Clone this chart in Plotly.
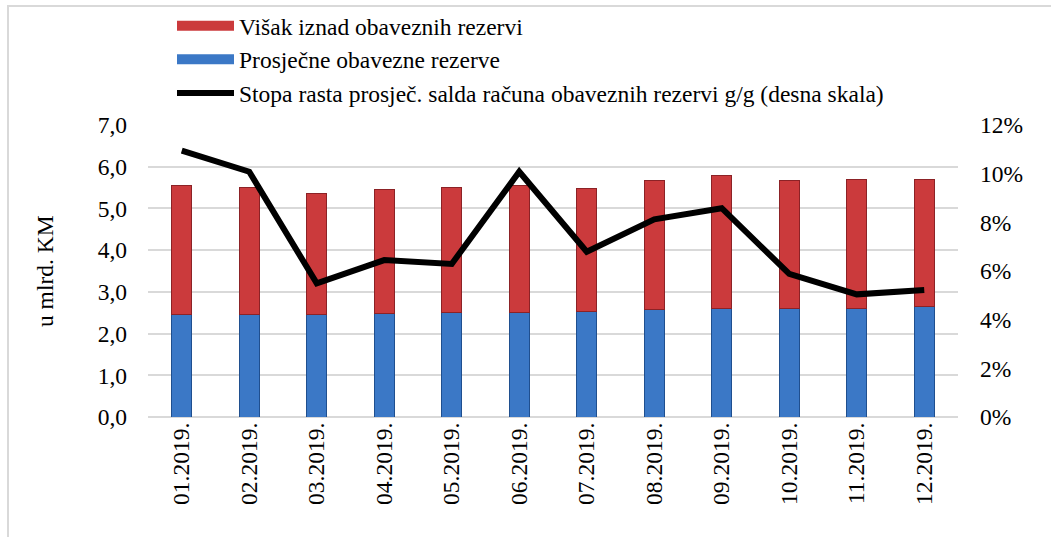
import plotly.graph_objects as go

months = ["01.2019.", "02.2019.", "03.2019.", "04.2019.", "05.2019.", "06.2019.",
          "07.2019.", "08.2019.", "09.2019.", "10.2019.", "11.2019.", "12.2019."]
required_reserves = [2.45, 2.45, 2.45, 2.49, 2.51, 2.51, 2.54, 2.57, 2.61, 2.61, 2.61, 2.64]
excess_reserves = [3.09, 3.06, 2.91, 2.97, 3.00, 3.03, 2.94, 3.10, 3.19, 3.06, 3.09, 3.06]
growth_rate = [10.95, 10.08, 5.49, 6.45, 6.29, 10.08, 6.79, 8.12, 8.58, 5.88, 5.04, 5.22]

left_ticks = [0, 1, 2, 3, 4, 5, 6, 7]
right_ticks = [0, 2, 4, 6, 8, 10, 12]
right_labels = [f"{v}%" for v in right_ticks]

name_excess = "Višak iznad obaveznih rezervi"
name_required = "Prosječne obavezne rezerve"
name_growth = "Stopa rasta prosječ. salda računa obaveznih rezervi g/g (desna skala)"

FONT = "Liberation Serif"
FS = 23.5
BLUE = "#3b78c6"
RED = "#cb3a3c"

W, H = 1051, 537
L, R, T, B = 148, 93, 125, 120
PW = W - L - R
PH = H - T - B


def px_x(px):
    return (px - L) / PW


def px_y(py):
    return (H - B - py) / PH


fig = go.Figure()
fig.add_trace(go.Bar(
    x=months, y=required_reserves, name=name_required,
    marker=dict(color=BLUE, line=dict(color="#1f4f8f", width=1)),
    width=0.29, showlegend=False))
fig.add_trace(go.Bar(
    x=months, y=excess_reserves, name=name_excess,
    marker=dict(color=RED, line=dict(color="#8c2226", width=1)),
    width=0.29, showlegend=False))
fig.add_trace(go.Scatter(
    x=months, y=growth_rate, yaxis="y2", mode="lines", name=name_growth,
    line=dict(color="black", width=6), legendrank=3, legendgroup="c"))

# legend entries for the bar series (wide rectangular keys like the original)
fig.add_trace(go.Scatter(x=[None], y=[None], mode="lines", name=name_excess,
                         line=dict(color=RED, width=10), legendrank=1, legendgroup="a"))
fig.add_trace(go.Scatter(x=[None], y=[None], mode="lines", name=name_required,
                         line=dict(color=BLUE, width=10), legendrank=2, legendgroup="b"))

fig.update_layout(
    width=W, height=H,
    margin=dict(l=L, r=R, t=T, b=B, autoexpand=False),
    paper_bgcolor="white", plot_bgcolor="white",
    barmode="stack",
    separators=", ",
    font=dict(family=FONT, size=FS, color="black"),
    showlegend=True,
    legend=dict(x=px_x(172), y=px_y(4), xanchor="left", yanchor="top",
                traceorder="normal", tracegroupgap=6,
                font=dict(family=FONT, size=FS, color="black"),
                bgcolor="rgba(0,0,0,0)", itemwidth=57),
    xaxis=dict(type="category", tickangle=-90, showgrid=False, ticks="",
               tickfont=dict(family=FONT, size=FS), showline=False),
    yaxis=dict(range=[0, 7], tickvals=left_ticks, tickformat=".1f",
               showgrid=True, gridcolor="#d9d9d9", gridwidth=1.5,
               zeroline=True, zerolinecolor="#d9d9d9", zerolinewidth=1.5,
               ticks="", ticklabelstandoff=20, tickfont=dict(family=FONT, size=FS)),
    yaxis2=dict(range=[0, 12], tickvals=right_ticks, ticktext=right_labels,
                overlaying="y", side="right", showgrid=False, zeroline=False,
                ticks="", ticklabelstandoff=21, tickfont=dict(family=FONT, size=FS)),
    annotations=[dict(text="u mlrd. KM", textangle=-90, xref="paper", yref="paper",
                      x=px_x(45), y=0.5, xanchor="center", yanchor="middle",
                      showarrow=False, font=dict(family=FONT, size=FS, color="black"))],
    shapes=[dict(type="rect", xref="paper", yref="paper",
                 x0=px_x(8), x1=1.4, y0=-0.7, y1=px_y(6),
                 line=dict(color="#d9d9d9", width=2), layer="below")],
)

fig.write_html("out.html", config={"displayModeBar": False},
               post_script="document.body.style.margin='0';")
